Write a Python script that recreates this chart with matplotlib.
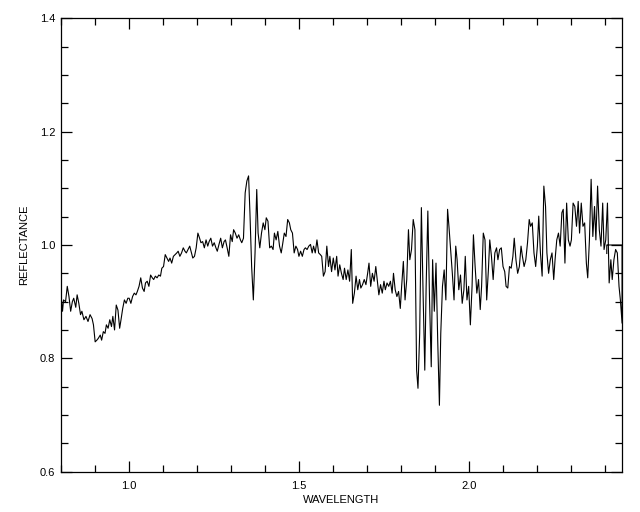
import matplotlib
matplotlib.use("Agg")
import matplotlib.pyplot as plt
from matplotlib.ticker import MultipleLocator

# spectrum (wavelength in microns)
wavelength = [
    0.800, 0.805, 0.808, 0.814, 0.819, 0.824, 0.829, 0.834, 0.838, 0.844,
    0.848, 0.853, 0.858, 0.862, 0.868, 0.874, 0.880, 0.886, 0.892, 0.896,
    0.901, 0.906, 0.910, 0.916, 0.920, 0.925,
    0.930, 0.934, 0.939, 0.944, 0.949, 0.953, 0.958, 0.963, 0.968, 0.973,
    0.977, 0.982, 0.987, 0.992, 0.997, 1.001, 1.006, 1.011, 1.016, 1.021,
    1.025, 1.030, 1.035, 1.040, 1.045, 1.049, 1.054, 1.059, 1.064, 1.069,
    1.073, 1.078, 1.083, 1.088, 1.093, 1.097, 1.102, 1.107, 1.112, 1.117,
    1.121, 1.126, 1.131, 1.136, 1.141, 1.145, 1.150, 1.155, 1.160, 1.165,
    1.169, 1.174, 1.179, 1.184, 1.188, 1.193, 1.198, 1.203, 1.208, 1.212,
    1.217, 1.222, 1.227, 1.232, 1.236, 1.241, 1.246, 1.251, 1.256, 1.260,
    1.265, 1.270, 1.275, 1.280, 1.284, 1.289, 1.294, 1.299, 1.304, 1.308,
    1.313, 1.318, 1.323, 1.328, 1.332, 1.337, 1.342, 1.347, 1.352, 1.356,
    1.361, 1.366, 1.371, 1.376, 1.380, 1.385, 1.390, 1.395, 1.400, 1.404,
    1.409, 1.414, 1.419, 1.424, 1.428, 1.433, 1.438, 1.443, 1.448, 1.452,
    1.457, 1.462, 1.467, 1.472, 1.476, 1.481, 1.486, 1.491, 1.496, 1.500,
    1.505, 1.510, 1.515, 1.519, 1.524, 1.529, 1.534, 1.539, 1.543, 1.548,
    1.553, 1.558, 1.563, 1.567, 1.572, 1.577, 1.582, 1.587, 1.591, 1.596,
    1.601, 1.606, 1.611, 1.615, 1.620, 1.625, 1.630, 1.634, 1.639, 1.644,
    1.649, 1.654, 1.658, 1.663, 1.668, 1.673, 1.678, 1.682, 1.687, 1.692,
    1.697, 1.702, 1.706, 1.711, 1.716, 1.721, 1.726, 1.730, 1.735, 1.740,
    1.745, 1.750, 1.754, 1.759, 1.764, 1.769, 1.774, 1.778, 1.783, 1.788,
    1.793, 1.798, 1.802, 1.807, 1.812, 1.817, 1.822, 1.826, 1.831, 1.836,
    1.841, 1.846, 1.850, 1.855, 1.860, 1.865, 1.870, 1.874, 1.879, 1.884,
    1.889, 1.893, 1.898, 1.903, 1.908, 1.913, 1.917, 1.922, 1.927, 1.932,
    1.937, 1.941, 1.946, 1.951, 1.956, 1.961, 1.965, 1.970, 1.975, 1.980,
    1.985, 1.989, 1.994, 1.999, 2.004, 2.009, 2.013, 2.018, 2.023, 2.028,
    2.033, 2.037, 2.042, 2.047, 2.052, 2.057, 2.061, 2.066, 2.071, 2.076,
    2.081, 2.085, 2.090, 2.095, 2.100, 2.105, 2.109, 2.114, 2.119, 2.124,
    2.129, 2.133, 2.138, 2.143, 2.148, 2.153, 2.157, 2.162, 2.167, 2.172,
    2.177, 2.181, 2.186, 2.191, 2.196, 2.201, 2.205, 2.210, 2.215, 2.220,
    2.225, 2.229, 2.234, 2.239, 2.244, 2.249, 2.253, 2.258, 2.263, 2.268,
    2.273, 2.277, 2.282, 2.287, 2.292, 2.297, 2.301, 2.306, 2.311, 2.316,
    2.321, 2.325, 2.330, 2.335, 2.340, 2.345, 2.349, 2.354, 2.359, 2.364,
    2.369, 2.373, 2.378, 2.383, 2.388, 2.393, 2.397, 2.402, 2.407, 2.412,
    2.417, 2.421, 2.426, 2.431, 2.436, 2.441, 2.445, 2.450,
    2.450, 2.405, 2.405,
]

reflectance = [
    0.915, 0.883, 0.903, 0.900, 0.927, 0.909, 0.883, 0.900, 0.906, 0.890,
    0.912, 0.897, 0.877, 0.883, 0.868, 0.874, 0.865, 0.877, 0.870, 0.859,
    0.829, 0.832, 0.835, 0.841, 0.832, 0.847,
    0.844, 0.859, 0.853, 0.868, 0.856, 0.874, 0.850, 0.894, 0.885, 0.853,
    0.868, 0.888, 0.903, 0.897, 0.906, 0.906, 0.897, 0.909, 0.915, 0.912,
    0.918, 0.927, 0.942, 0.924, 0.918, 0.933, 0.936, 0.927, 0.947, 0.942,
    0.939, 0.945, 0.942, 0.947, 0.945, 0.959, 0.962, 0.983, 0.977, 0.971,
    0.977, 0.968, 0.980, 0.983, 0.986, 0.989, 0.980, 0.986, 0.995, 0.989,
    0.986, 0.992, 0.998, 0.986, 0.977, 0.980, 0.995, 1.021, 1.012, 1.004,
    1.006, 0.995, 1.009, 0.998, 1.006, 1.012, 0.998, 1.004, 0.995, 0.989,
    1.001, 1.012, 0.995, 1.006, 1.009, 0.995, 0.980, 1.018, 1.006, 1.027,
    1.021, 1.012, 1.018, 1.009, 1.004, 1.012, 1.092, 1.113, 1.122, 1.057,
    0.962, 0.903, 0.986, 1.098, 1.021, 0.995, 1.021, 1.039, 1.027, 1.048,
    1.042, 0.995, 0.998, 0.992, 1.021, 1.009, 1.024, 0.998, 0.986, 1.001,
    1.021, 1.015, 1.045, 1.039, 1.027, 1.021, 0.986, 0.998, 0.992, 0.980,
    0.989, 0.980, 0.992, 0.995, 0.992, 0.998, 1.001, 0.986, 0.998, 0.986,
    1.009, 0.986, 0.983, 0.980, 0.945, 0.953, 0.998, 0.962, 0.980, 0.953,
    0.977, 0.956, 0.980, 0.945, 0.965, 0.950, 0.939, 0.959, 0.939, 0.956,
    0.936, 0.992, 0.897, 0.915, 0.945, 0.921, 0.939, 0.924, 0.930, 0.939,
    0.930, 0.950, 0.968, 0.927, 0.950, 0.936, 0.962, 0.939, 0.912, 0.930,
    0.915, 0.936, 0.921, 0.933, 0.927, 0.936, 0.915, 0.950, 0.921, 0.909,
    0.918, 0.888, 0.927, 0.971, 0.903, 0.939, 1.027, 0.974, 0.992, 1.045,
    1.027, 0.779, 0.747, 0.844, 1.066, 0.915, 0.779, 0.927, 1.060, 0.903,
    0.785, 0.974, 0.883, 0.968, 0.832, 0.717, 0.844, 0.927, 0.956, 0.903,
    1.063, 1.033, 0.992, 0.950, 0.903, 0.998, 0.974, 0.921, 0.947, 0.897,
    0.921, 0.980, 0.903, 0.927, 0.859, 0.927, 1.018, 0.962, 0.915, 0.939,
    0.886, 0.927, 1.021, 1.009, 0.903, 0.956, 1.009, 0.980, 0.939, 0.986,
    0.995, 0.974, 0.992, 0.995, 0.962, 0.953, 0.927, 0.924, 0.962, 0.959,
    0.980, 1.012, 0.974, 0.950, 0.962, 0.998, 0.980, 0.962, 0.974, 1.004,
    1.045, 1.033, 1.039, 0.986, 0.962, 0.998, 1.051, 0.986, 0.945, 1.104,
    1.068, 0.986, 0.950, 0.974, 0.986, 0.939, 0.974, 1.009, 1.021, 0.998,
    1.057, 1.063, 0.968, 1.074, 1.009, 0.998, 1.009, 1.074, 1.068, 1.033,
    1.077, 1.021, 1.074, 1.033, 1.039, 0.968, 0.942, 1.009, 1.116, 1.015,
    1.068, 1.009, 1.104, 1.027, 0.998, 1.074, 0.992, 1.009, 1.074, 0.933,
    0.974, 0.939, 0.974, 0.992, 0.986, 0.927, 0.903, 0.862,
    1.000, 1.000, 0.985,
]

x_ticks = [1.0, 1.5, 2.0]
y_ticks = [0.6, 0.8, 1.0, 1.2, 1.4]

plt.rcParams['font.family'] = ['Liberation Sans Narrow', 'Liberation Sans', 'DejaVu Sans']

fig = plt.figure(figsize=(6.4, 5.12), dpi=100)
ax = fig.add_axes([0.095, 0.079, 0.877, 0.885])

ax.plot(wavelength, reflectance, color='black', linewidth=0.8)

ax.set_xlim(0.8, 2.45)
ax.set_ylim(0.6, 1.4)
ax.set_xticks(x_ticks)
ax.set_xticklabels([f"{t:.1f}" for t in x_ticks])
ax.set_yticks(y_ticks)
ax.set_yticklabels([f"{t:.1f}" for t in y_ticks])
ax.xaxis.set_minor_locator(MultipleLocator(0.1))
ax.yaxis.set_minor_locator(MultipleLocator(0.05))

ax.tick_params(which='both', direction='in', top=True, right=True,
               width=0.9, labelsize=8, colors='black')
ax.tick_params(which='major', length=8)
ax.tick_params(which='minor', length=5)
ax.tick_params(axis='x', pad=7)
ax.tick_params(axis='y', pad=4)
for s in ax.spines.values():
    s.set_linewidth(0.9)

ax.set_xlabel("WAVELENGTH", fontsize=8, labelpad=3)
ax.set_ylabel("REFLECTANCE", fontsize=8, labelpad=8)

fig.savefig("out.png", dpi=100)
